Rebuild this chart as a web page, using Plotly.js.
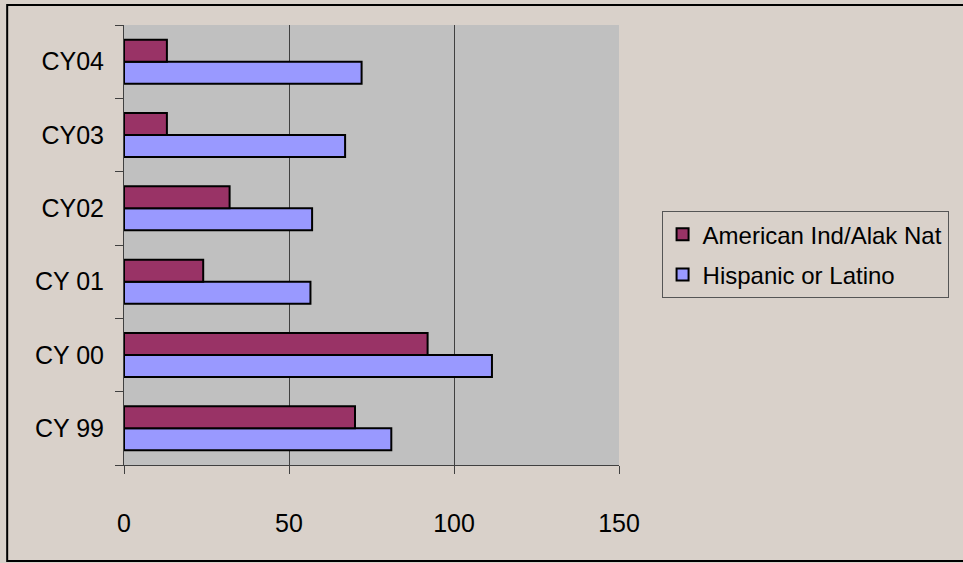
<!DOCTYPE html>
<html>
<head>
<meta charset="utf-8">
<script src="https://cdn.plot.ly/plotly-3.0.1.min.js"></script>
<style>html,body{margin:0;padding:0;background:#D9D1CA;}#chart{width:963px;height:563px;}</style>
</head>
<body>
<div id="chart"></div>
<script>
var categories = ['CY 99', 'CY 00', 'CY 01', 'CY02', 'CY03', 'CY04'];
var americanInd = [70, 92, 24, 32, 13, 13];
var hispanic = [81, 111.5, 56.5, 57, 67, 72];
var seriesNames = ['American Ind/Alak Nat', 'Hispanic or Latino'];
var xTicks = [0, 50, 100, 150];

var font = 'Arial, "Liberation Sans", sans-serif';
var fs = 25;

var traces = [
  {
    type: 'bar', orientation: 'h', name: seriesNames[1], legendgroup: 'b', legendrank: 2,
    y: categories, x: hispanic,
    marker: {color: '#9999FF', line: {color: '#000000', width: 2}}
  },
  {
    type: 'bar', orientation: 'h', name: seriesNames[0], legendgroup: 'a', legendrank: 1,
    y: categories, x: americanInd,
    marker: {color: '#993366', line: {color: '#000000', width: 2}}
  }
];

var layout = {
  width: 963, height: 563,
  paper_bgcolor: '#D9D1CA',
  plot_bgcolor: '#C0C0C0',
  margin: {l: 124, r: 343.5, t: 25, b: 98, pad: 0, autoexpand: false},
  barmode: 'group',
  bargap: 0.4,
  bargroupgap: 0,
  showlegend: true,
  font: {family: font, size: fs, color: '#000000'},
  xaxis: {
    range: [0, 150],
    tickvals: xTicks,
    ticktext: xTicks.map(String),
    showgrid: true, gridcolor: '#404040', gridwidth: 1,
    zeroline: false,
    showline: true, linecolor: '#404040', linewidth: 1,
    ticks: 'outside', ticklen: 8, tickcolor: '#404040',
    ticklabelstandoff: 28,
    tickfont: {family: font, size: fs, color: '#000000'},
    fixedrange: true, automargin: false
  },
  yaxis: {
    type: 'category',
    categoryorder: 'array', categoryarray: categories,
    showgrid: false, zeroline: false,
    showline: true, linecolor: '#404040', linewidth: 1,
    ticks: 'outside', ticklen: 8, tickcolor: '#404040',
    tickson: 'boundaries',
    ticklabelstandoff: 14,
    tickfont: {family: font, size: fs, color: '#000000'},
    fixedrange: true, automargin: false
  },
  legend: {
    x: 1.086, xanchor: 'left', y: 0.577, yanchor: 'top',
    bgcolor: '#D9D1CA', bordercolor: '#555555', borderwidth: 1,
    traceorder: 'grouped', tracegroupgap: 6,
    font: {family: font, size: 24, color: '#000000'}
  },
  shapes: [
    {type: 'rect', xref: 'paper', yref: 'paper', x0: -0.236, x1: 1.75, y0: -0.218, y1: 1.0455,
     line: {color: '#000000', width: 2}, fillcolor: 'rgba(0,0,0,0)', layer: 'above'}
  ]
};

Plotly.newPlot('chart', traces, layout, {displayModeBar: false, staticPlot: true});
</script>
</body>
</html>
